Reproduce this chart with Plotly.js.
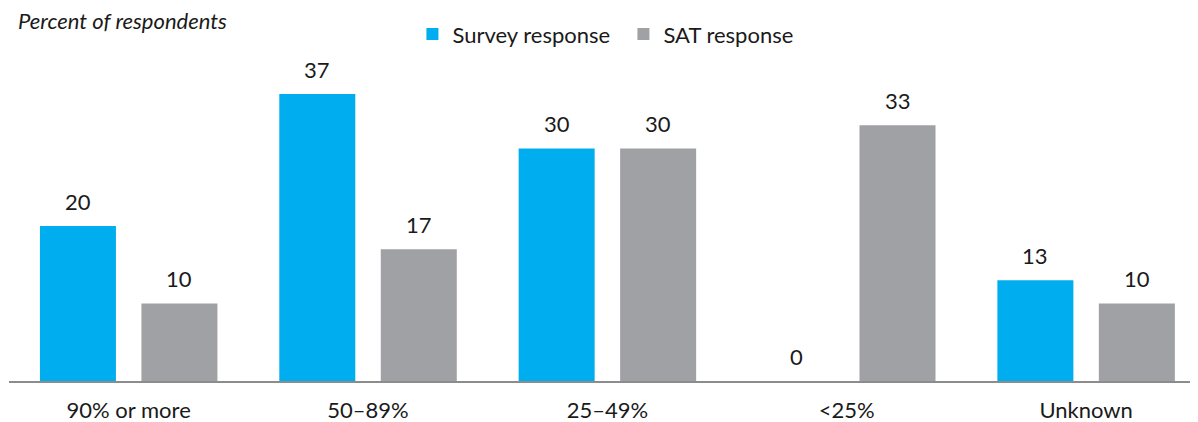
<!DOCTYPE html>
<html>
<head>
<meta charset="utf-8">
<script src="https://cdn.plot.ly/plotly-3.0.1.min.js"></script>
<style>html,body{margin:0;padding:0;background:#fff;}#chart{width:1198px;height:422px;}</style>
</head>
<body>
<div id="chart"></div>
<script>
const categories = ["90% or more", "50–89%", "25–49%", "<25%", "Unknown"];
const surveyValues = [20, 37, 30, 0, 13];
const satValues = [10, 17, 30, 33, 10];
const seriesNames = ["Survey response", "SAT response"];
const yTitle = "Percent of respondents";

const blue = "#00AEEF";
const gray = "#A0A1A5";
const fontFam = "Lato, 'Open Sans', sans-serif";
const fs = 22;

const traces = [
  {type: "bar", name: seriesNames[0], x: categories, y: surveyValues, marker: {color: blue}, hoverinfo: "none"},
  {type: "bar", name: seriesNames[1], x: categories, y: satValues, marker: {color: gray}, hoverinfo: "none"}
];

const bargap = 0.152, bargroupgap = 0.251;
const plotLeft = 9, plotRight = 1190;
const xRange = [-0.5, 4.434];
const pxPerCat = (plotRight - plotLeft) / (xRange[1] - xRange[0]);
const slotPx = pxPerCat * (1 - bargap) / 2;

const annotations = [];
[surveyValues, satValues].forEach((vals, si) => {
  vals.forEach((v, i) => {
    annotations.push({
      x: categories[i], y: v, xref: "x", yref: "y",
      text: String(v), showarrow: false,
      xshift: (si === 0 ? -1 : 1) * slotPx / 2,
      yshift: 24.5, yanchor: "middle",
      font: {family: fontFam, size: fs, color: "#1a1a1a"}
    });
  });
});
annotations.push({
  xref: "paper", yref: "paper", x: 0, y: 1,
  xshift: 7, yshift: 40, xanchor: "left", yanchor: "middle",
  text: "<i>" + yTitle + "</i>", showarrow: false,
  font: {family: fontFam, size: fs, color: "#1a1a1a"}
});

const layout = {
  width: 1198, height: 422,
  margin: {l: plotLeft, r: 1198 - plotRight, t: 60, b: 41, pad: 0},
  paper_bgcolor: "#fff", plot_bgcolor: "#fff",
  barmode: "group", bargap: bargap, bargroupgap: bargroupgap,
  font: {family: fontFam, size: fs, color: "#1a1a1a"},
  showlegend: true,
  legend: {orientation: "h", x: 0.3416, xanchor: "left", y: 1.015, yanchor: "bottom", yref: "paper",
    font: {family: fontFam, size: fs, color: "#1a1a1a"}, itemwidth: 30, traceorder: "normal",
    entrywidth: 166, entrywidthmode: "pixels",
    bgcolor: "rgba(0,0,0,0)"},
  xaxis: {type: "category", range: xRange, showgrid: false, zeroline: false,
    showline: true, linecolor: "#8c8c8c", linewidth: 2, ticks: "outside", ticklen: 9,
    tickcolor: "rgba(0,0,0,0)",
    tickfont: {family: fontFam, size: fs, color: "#1a1a1a"}, fixedrange: true},
  yaxis: {range: [0, 41.4], showgrid: false, zeroline: false, showline: false,
    showticklabels: false, ticks: "", fixedrange: true},
  annotations: annotations
};

Plotly.newPlot("chart", traces, layout, {displayModeBar: false, staticPlot: true});
</script>
</body>
</html>
